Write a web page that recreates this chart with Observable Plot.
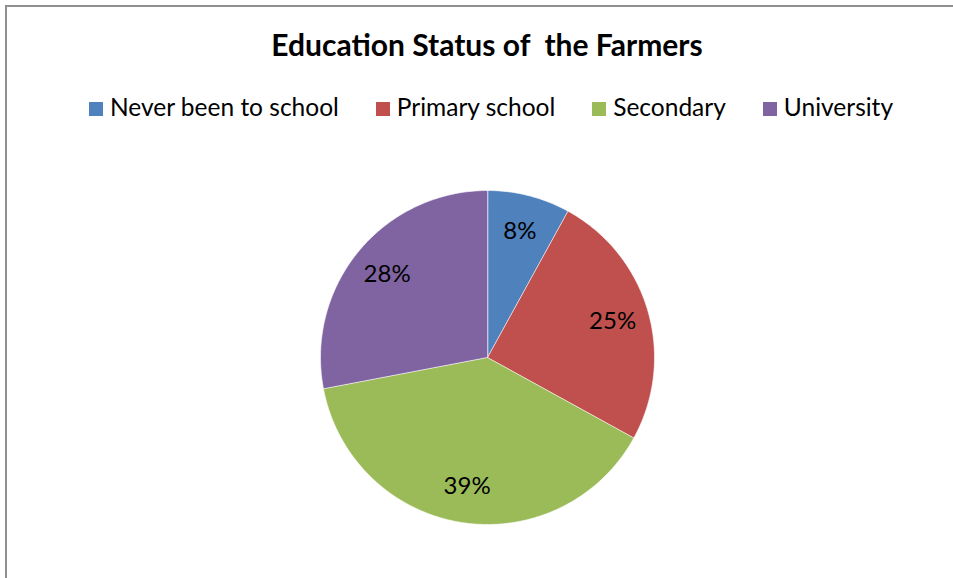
<!DOCTYPE html>
<html>
<head>
<meta charset="utf-8">
<script src="https://cdn.jsdelivr.net/npm/d3@7"></script>
<script src="https://cdn.jsdelivr.net/npm/@observablehq/plot@0.6"></script>
<style>
  body { margin: 0; background: #fff; font-family: Lato, "Open Sans", sans-serif; }
  #chart { position: relative; width: 953px; height: 578px; overflow: hidden; background: #fff; }
  #frame { position: absolute; left: 5px; top: 5px; width: 1100px; height: 800px; border: 2px solid #8f8f8f; box-sizing: border-box; }
  #title { position: absolute; left: 0; width: 974px; top: 29px; text-align: center; font-weight: bold; font-size: 30px; line-height: 30px; color: #000; white-space: pre; }
  #legend { position: absolute; left: 0; width: 982px; top: 95px; display: flex; justify-content: center; font-size: 24.5px; line-height: 24.5px; color: #000; }
  .item { display: flex; align-items: center; margin: 0 18.5px; }
  .sw { width: 14px; height: 14px; margin-right: 7px; margin-top: 3px; }
  #plot { position: absolute; left: 0; top: 0; }
</style>
</head>
<body>
<div id="chart">
  <div id="frame"></div>
  <div id="title"></div>
  <div id="legend"></div>
  <div id="plot"></div>
</div>
<script>
const titleText = "Education Status of  the Farmers";
const categories = ["Never been to school", "Primary school", "Secondary", "University"];
const values = [8, 25, 39, 28];
const colors = ["#4F81BD", "#C0504D", "#9BBB59", "#8064A2"];

document.getElementById("title").textContent = titleText;
const legend = d3.select("#legend");
categories.forEach((c, i) => {
  const it = legend.append("div").attr("class", "item");
  it.append("div").attr("class", "sw").style("background", colors[i]);
  it.append("span").text(c);
});

// Build pie geometry from the values (start at 12 o'clock, clockwise)
const total = d3.sum(values);
const slices = [];
const labels = [];
let acc = 0;
values.forEach((v, i) => {
  const a0 = acc / total * 2 * Math.PI;
  acc += v;
  const a1 = acc / total * 2 * Math.PI;
  const n = Math.max(2, Math.ceil((a1 - a0) / (Math.PI / 180)));
  slices.push({category: categories[i], x: 0, y: 0});
  for (let k = 0; k <= n; k++) {
    const a = a0 + (a1 - a0) * k / n;
    slices.push({category: categories[i], x: Math.sin(a), y: Math.cos(a)});
  }
  const am = (a0 + a1) / 2;
  labels.push({category: categories[i], x: 0.78 * Math.sin(am), y: 0.78 * Math.cos(am), text: v + "%"});
});

const chart = Plot.plot({
  width: 953,
  height: 578,
  marginLeft: 320,
  marginRight: 299,
  marginTop: 190,
  marginBottom: 54,
  x: {domain: [-1, 1], axis: null},
  y: {domain: [-1, 1], axis: null},
  color: {domain: categories, range: colors},
  style: {background: "transparent", overflow: "visible"},
  marks: [
    Plot.line(slices, {x: "x", y: "y", z: "category", fill: "category", stroke: "white", strokeWidth: 0.6, curve: "linear-closed"}),
    Plot.text(labels, {x: "x", y: "y", text: "text", fill: "black", fontSize: 24, fontFamily: "Lato, sans-serif"})
  ]
});
document.getElementById("plot").appendChild(chart);
</script>
</body>
</html>
